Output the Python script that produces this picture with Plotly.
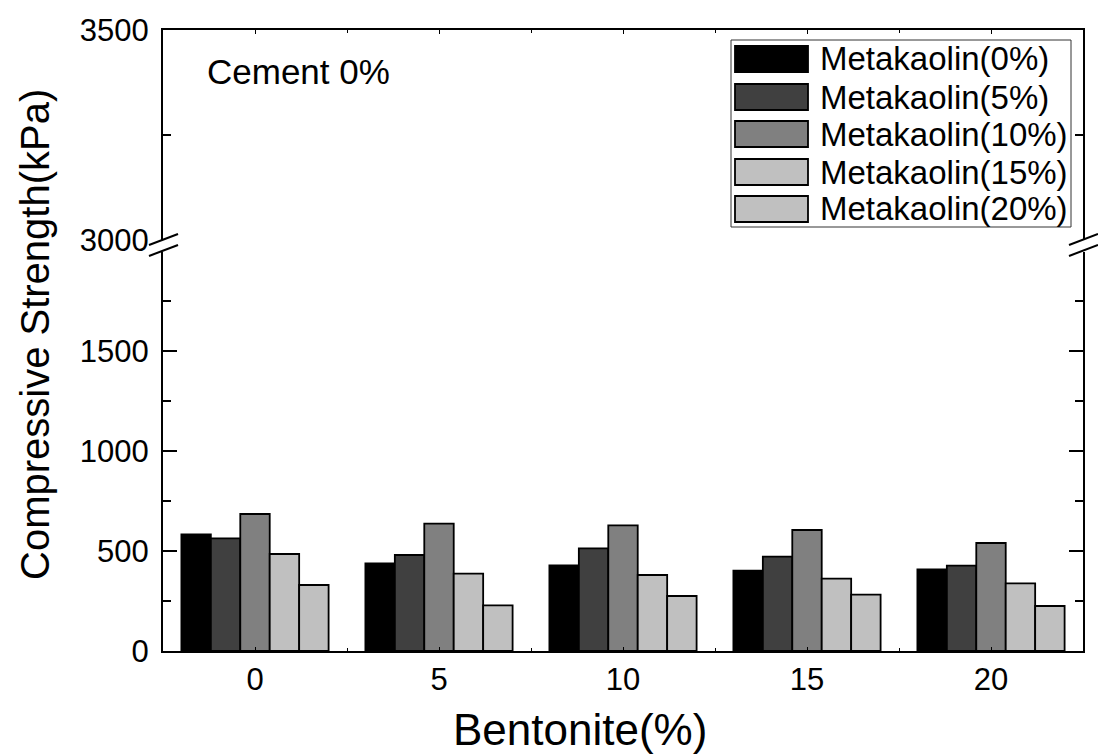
import plotly.graph_objects as go

# ---- data ----
bentonite = [0, 5, 10, 15, 20]
x_tick_labels = ["0", "5", "10", "15", "20"]
series_names = ["Metakaolin(0%)", "Metakaolin(5%)", "Metakaolin(10%)",
                "Metakaolin(15%)", "Metakaolin(20%)"]
mk0 = [583, 438, 428, 402, 408]
mk5 = [563, 480, 513, 472, 427]
mk10 = [685, 637, 628, 605, 540]
mk15 = [485, 387, 380, 362, 338]
mk20 = [330, 228, 275, 282, 225]
y_ticks_lower = [0, 500, 1000, 1500]
y_ticks_upper = [3000, 3500]

# ---- style ----
colors = ["#000000", "#404040", "#808080", "#C0C0C0", "#C0C0C0"]
FONT = "Liberation Sans, Arial, sans-serif"
W, H = 1098, 755
L, R, T, B = 163, 15, 30, 104
PW, PH = W - L - R, H - T - B


def px_x(px):
    return (px - L) / PW


def px_y(py):
    return (H - B - py) / PH


fig = go.Figure()
for name, vals, col in zip(series_names, [mk0, mk5, mk10, mk15, mk20], colors):
    fig.add_trace(go.Bar(x=bentonite, y=vals, name=name,
                         marker=dict(color=col, line=dict(color="#000000", width=1.8)),
                         xaxis="x", yaxis="y", showlegend=False))
# empty trace for upper panel
fig.add_trace(go.Scatter(x=[], y=[], xaxis="x2", yaxis="y2", showlegend=False))

axis_common = dict(showline=True, linewidth=2, linecolor="black", showgrid=False,
                   zeroline=False, tickcolor="black")

fig.update_layout(
    width=W, height=H, autosize=False,
    margin=dict(l=L, r=R, t=T, b=B, pad=0),
    paper_bgcolor="white", plot_bgcolor="white",
    font=dict(family=FONT, color="black"),
    barmode="group", bargap=0.2, bargroupgap=0,
    xaxis=dict(axis_common, domain=[0, 1], range=[-2.5, 22.5], anchor="y",
               tickvals=bentonite, ticktext=x_tick_labels, ticks="inside", ticklen=4,
               tickwidth=1, mirror=False, tickfont=dict(size=31),
               ticklabelstandoff=0,
               minor=dict(dtick=2.5, tick0=0, ticks="inside", ticklen=3, tickwidth=1,
                          tickcolor="black")),
    xaxis2=dict(axis_common, domain=[0, 1], range=[-2.5, 22.5], anchor="y2",
                matches="x", side="top", ticks="inside", ticklen=4, tickwidth=1,
                tickvals=bentonite, showticklabels=False,
                minor=dict(dtick=2.5, tick0=0, ticks="inside", ticklen=3, tickwidth=1,
                           tickcolor="black")),
    yaxis=dict(axis_common, domain=[0, px_y(252)], range=[0, 1995], anchor="x",
               tickvals=y_ticks_lower, ticks="inside", ticklen=14, tickwidth=2,
               mirror="ticks", tickfont=dict(size=31), ticklabelstandoff=6,
               minor=dict(dtick=250, ticks="inside", ticklen=8, tickwidth=2,
                          tickcolor="black")),
    yaxis2=dict(axis_common, domain=[px_y(240), 1], range=[3000, 3500], anchor="x2",
                tickvals=y_ticks_upper, ticks="inside", ticklen=14, tickwidth=2,
                mirror="ticks", tickfont=dict(size=31), ticklabelstandoff=6,
                minor=dict(dtick=250, ticks="inside", ticklen=8, tickwidth=2,
                           tickcolor="black")),
)

shapes = []
annotations = []

# axis break marks (left and right)
for cx in (L, L + PW):
    for cy in (240, 251):
        shapes.append(dict(type="line", xref="paper", yref="paper",
                           x0=px_x(cx - 14), y0=px_y(cy + 5),
                           x1=px_x(cx + 15), y1=px_y(cy - 6),
                           line=dict(color="black", width=2)))

# custom legend
shapes.append(dict(type="rect", xref="paper", yref="paper",
                   x0=px_x(731), x1=px_x(1071), y0=px_y(227), y1=px_y(40),
                   line=dict(color="#333333", width=1), fillcolor="white", layer="above"))
row_y = [59, 97, 134, 172, 209]
for name, col, ry in zip(series_names, colors, row_y):
    shapes.append(dict(type="rect", xref="paper", yref="paper",
                       x0=px_x(735), x1=px_x(808), y0=px_y(ry + 13), y1=px_y(ry - 13),
                       line=dict(color="black", width=1.8), fillcolor=col, layer="above"))
    annotations.append(dict(text=name, xref="paper", yref="paper",
                            x=px_x(818), y=px_y(ry), xanchor="left", yanchor="middle",
                            showarrow=False, font=dict(size=33, family=FONT, color="black")))

annotations.append(dict(text="Cement 0%", xref="paper", yref="paper",
                        x=px_x(205), y=px_y(72), xanchor="left", yanchor="middle",
                        showarrow=False, font=dict(size=35, family=FONT, color="black")))
annotations.append(dict(text="Bentonite(%)", xref="paper", yref="paper",
                        x=px_x(580), y=px_y(729), xanchor="center", yanchor="middle",
                        showarrow=False, font=dict(size=44, family=FONT, color="black")))
annotations.append(dict(text="Compressive Strength(kPa)", xref="paper", yref="paper",
                        x=px_x(35), y=px_y(335), xanchor="center", yanchor="middle",
                        textangle=-90, showarrow=False,
                        font=dict(size=40, family=FONT, color="black")))

fig.update_layout(shapes=shapes, annotations=annotations)
fig.write_html("out.html")
